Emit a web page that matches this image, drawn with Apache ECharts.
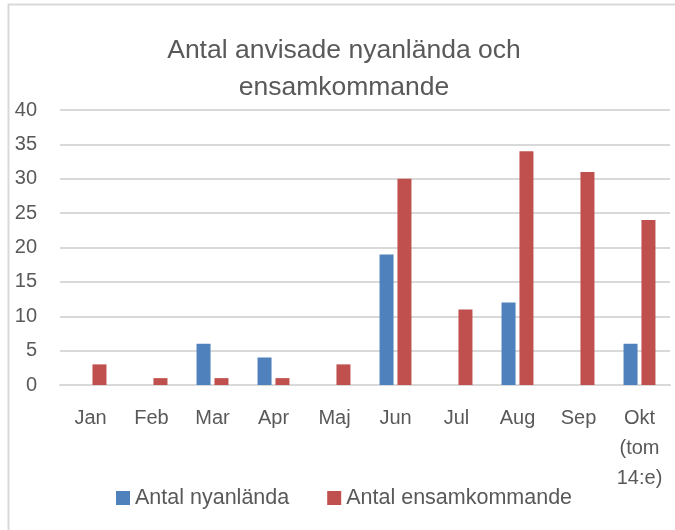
<!DOCTYPE html>
<html lang="sv">
<head>
    <meta charset="UTF-8">
    <title>Antal anvisade</title>
    <style>
        html, body { margin: 0; padding: 0; background: #fff; }
        #main { width: 675px; height: 530px; }
    </style>
</head>
<body>
<script src="https://cdn.jsdelivr.net/npm/echarts@6/dist/echarts.min.js"></script>
<div id="main"></div>
<script>
    var months = ['Jan', 'Feb', 'Mar', 'Apr', 'Maj', 'Jun', 'Jul', 'Aug', 'Sep', 'Okt\n(tom\n14:e)'];
    var nyanlanda = [0, 0, 6, 4, 0, 19, 0, 12, 0, 6];
    var ensamkommande = [3, 1, 1, 1, 3, 30, 11, 34, 31, 24];

    var font = 'Liberation Sans';
    var textColor = '#595959';

    var chart = echarts.init(document.getElementById('main'));
    var option = {
        animation: false,
        backgroundColor: '#fff',
        title: {
            text: 'Antal anvisade nyanlända och\nensamkommande',
            left: 339,
            textAlign: 'center',
            top: 27,
            textStyle: {
                fontFamily: font,
                fontSize: 26.5,
                fontWeight: 'normal',
                color: textColor,
                lineHeight: 37
            }
        },
        graphic: [{
            type: 'rect',
            shape: { x: 8.5, y: 4.5, width: 700, height: 600 },
            style: { fill: 'none', stroke: '#d9d9d9', lineWidth: 2 },
            silent: true
        }],
        legend: {
            bottom: 16,
            left: 111,
            itemWidth: 14,
            itemHeight: 14,
            itemGap: 38,
            icon: 'rect',
            textStyle: { fontFamily: font, fontSize: 21.5, color: textColor },
            data: ['Antal nyanlända', 'Antal ensamkommande']
        },
        grid: { left: 60, right: 5, top: 110, bottom: 145 },
        xAxis: {
            type: 'category',
            data: months,
            axisLine: { lineStyle: { color: '#d9d9d9', width: 2 } },
            axisTick: { show: false },
            axisLabel: {
                fontFamily: font,
                fontSize: 20,
                color: textColor,
                margin: 18,
                lineHeight: 30,
                interval: 0
            }
        },
        yAxis: {
            type: 'value',
            min: 0,
            max: 40,
            interval: 5,
            axisLine: { show: false },
            axisTick: { show: false },
            splitLine: { lineStyle: { color: '#d9d9d9', width: 2 } },
            axisLabel: {
                fontFamily: font,
                fontSize: 20,
                color: textColor,
                margin: 23
            }
        },
        series: [{
            name: 'Antal nyanlända',
            type: 'bar',
            data: nyanlanda,
            barWidth: 14,
            barGap: '28%',
            itemStyle: { color: '#4f81bd' }
        }, {
            name: 'Antal ensamkommande',
            type: 'bar',
            data: ensamkommande,
            barWidth: 14,
            itemStyle: { color: '#c0504d' }
        }]
    };
    chart.setOption(option);
</script>
</body>
</html>
